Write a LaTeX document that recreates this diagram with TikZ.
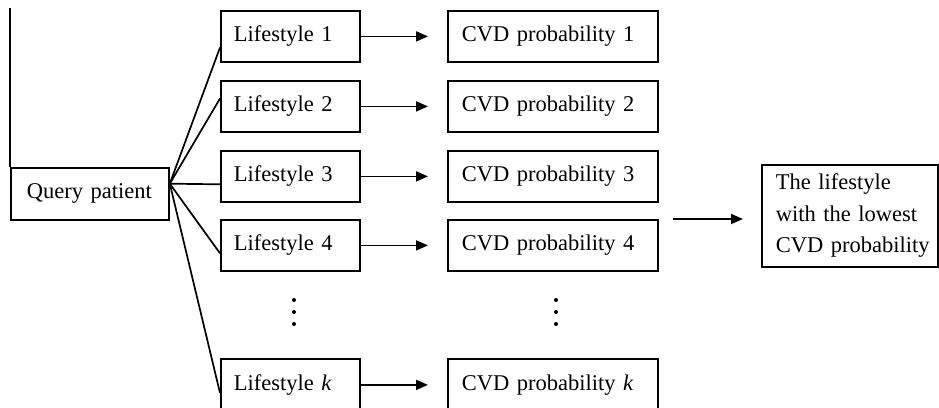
\documentclass[tikz,border=0pt]{standalone}
\usepackage{fontspec}
\setmainfont{Liberation Serif}
\usetikzlibrary{arrows.meta,calc}
\begin{document}
\begin{tikzpicture}[x=1pt,y=-1pt,
  box/.style={draw,line width=1.8pt,anchor=north west,inner xsep=0pt,inner ysep=0pt,
    align=left,font=\fontsize{22.5}{31.5}\selectfont},
  lbox/.style={box,text width=139pt,minimum height=51pt,execute at begin node={\leftskip=13pt}},
  cbox/.style={box,text width=210pt,minimum height=51pt,execute at begin node={\leftskip=14pt}},
  arr/.style={-{Triangle[length=12pt,width=10pt]},line width=1.8pt},
  ln/.style={line width=1.7pt},
  dotstyle/.style={fill=black}]
\useasboundingbox (0,0) rectangle (939,407);
\clip (0,0) rectangle (939,407);

\node[box,text width=158pt,minimum height=52pt,execute at begin node={\leftskip=16pt}] (qp) at (10,167) {Query patient};

\node[lbox] (l1) at (220,10)  {Lifestyle 1};
\node[lbox] (l2) at (220,80)  {Lifestyle 2};
\node[lbox] (l3) at (220,150) {Lifestyle 3};
\node[lbox] (l4) at (220,219) {Lifestyle 4};
\node[lbox,minimum height=52pt] (lk) at (220,358) {Lifestyle \textit{k}};

\node[cbox] (c1) at (447,10)  {CVD probability 1};
\node[cbox] (c2) at (447,80)  {CVD probability 2};
\node[cbox] (c3) at (447,150) {CVD probability 3};
\node[cbox] (c4) at (447,219) {CVD probability 4};
\node[cbox,minimum height=52pt] (ck) at (447,358) {CVD probability \textit{k}};

\node[box,text width=176pt,minimum height=102pt,execute at begin node={\leftskip=14pt}] (res) at (761,164)
  {The lifestyle\\with the lowest\\CVD probability};

% vertical line at left
\coordinate (vt) at (10,8);
\draw[ln] (vt) -- (qp.north west);

% fan-out
\coordinate (qc) at ($(qp.north east)!0.31!(qp.south east)$);
\draw[ln] (qc) -- ($(l1.north west)!0.71!(l1.south west)$);
\draw[ln] (qc) -- ($(l2.north west)!0.35!(l2.south west)$);
\draw[ln] (qc) -- ($(l3.north west)!0.65!(l3.south west)$);
\draw[ln] (qc) -- ($(l4.north west)!0.65!(l4.south west)$);
\draw[ln] (qc) -- ($(lk.north west)!0.65!(lk.south west)$);

% arrows lifestyle -> cvd
\foreach \i in {1,2,3,4,k}{
  \draw[arr] (l\i.east) -- ($(c\i.west)+(-19,0)$);
}

% result arrow
\coordinate (ra) at (673,219);
\draw[arr] (ra) -- ($(res.west |- ra)+(-18,0)$);

% vertical dots
\foreach \x in {294,556}{
  \foreach \y in {300,312,324}{
    \fill[dotstyle] (\x,\y) circle (2);
  }
}
\end{tikzpicture}
\end{document}
